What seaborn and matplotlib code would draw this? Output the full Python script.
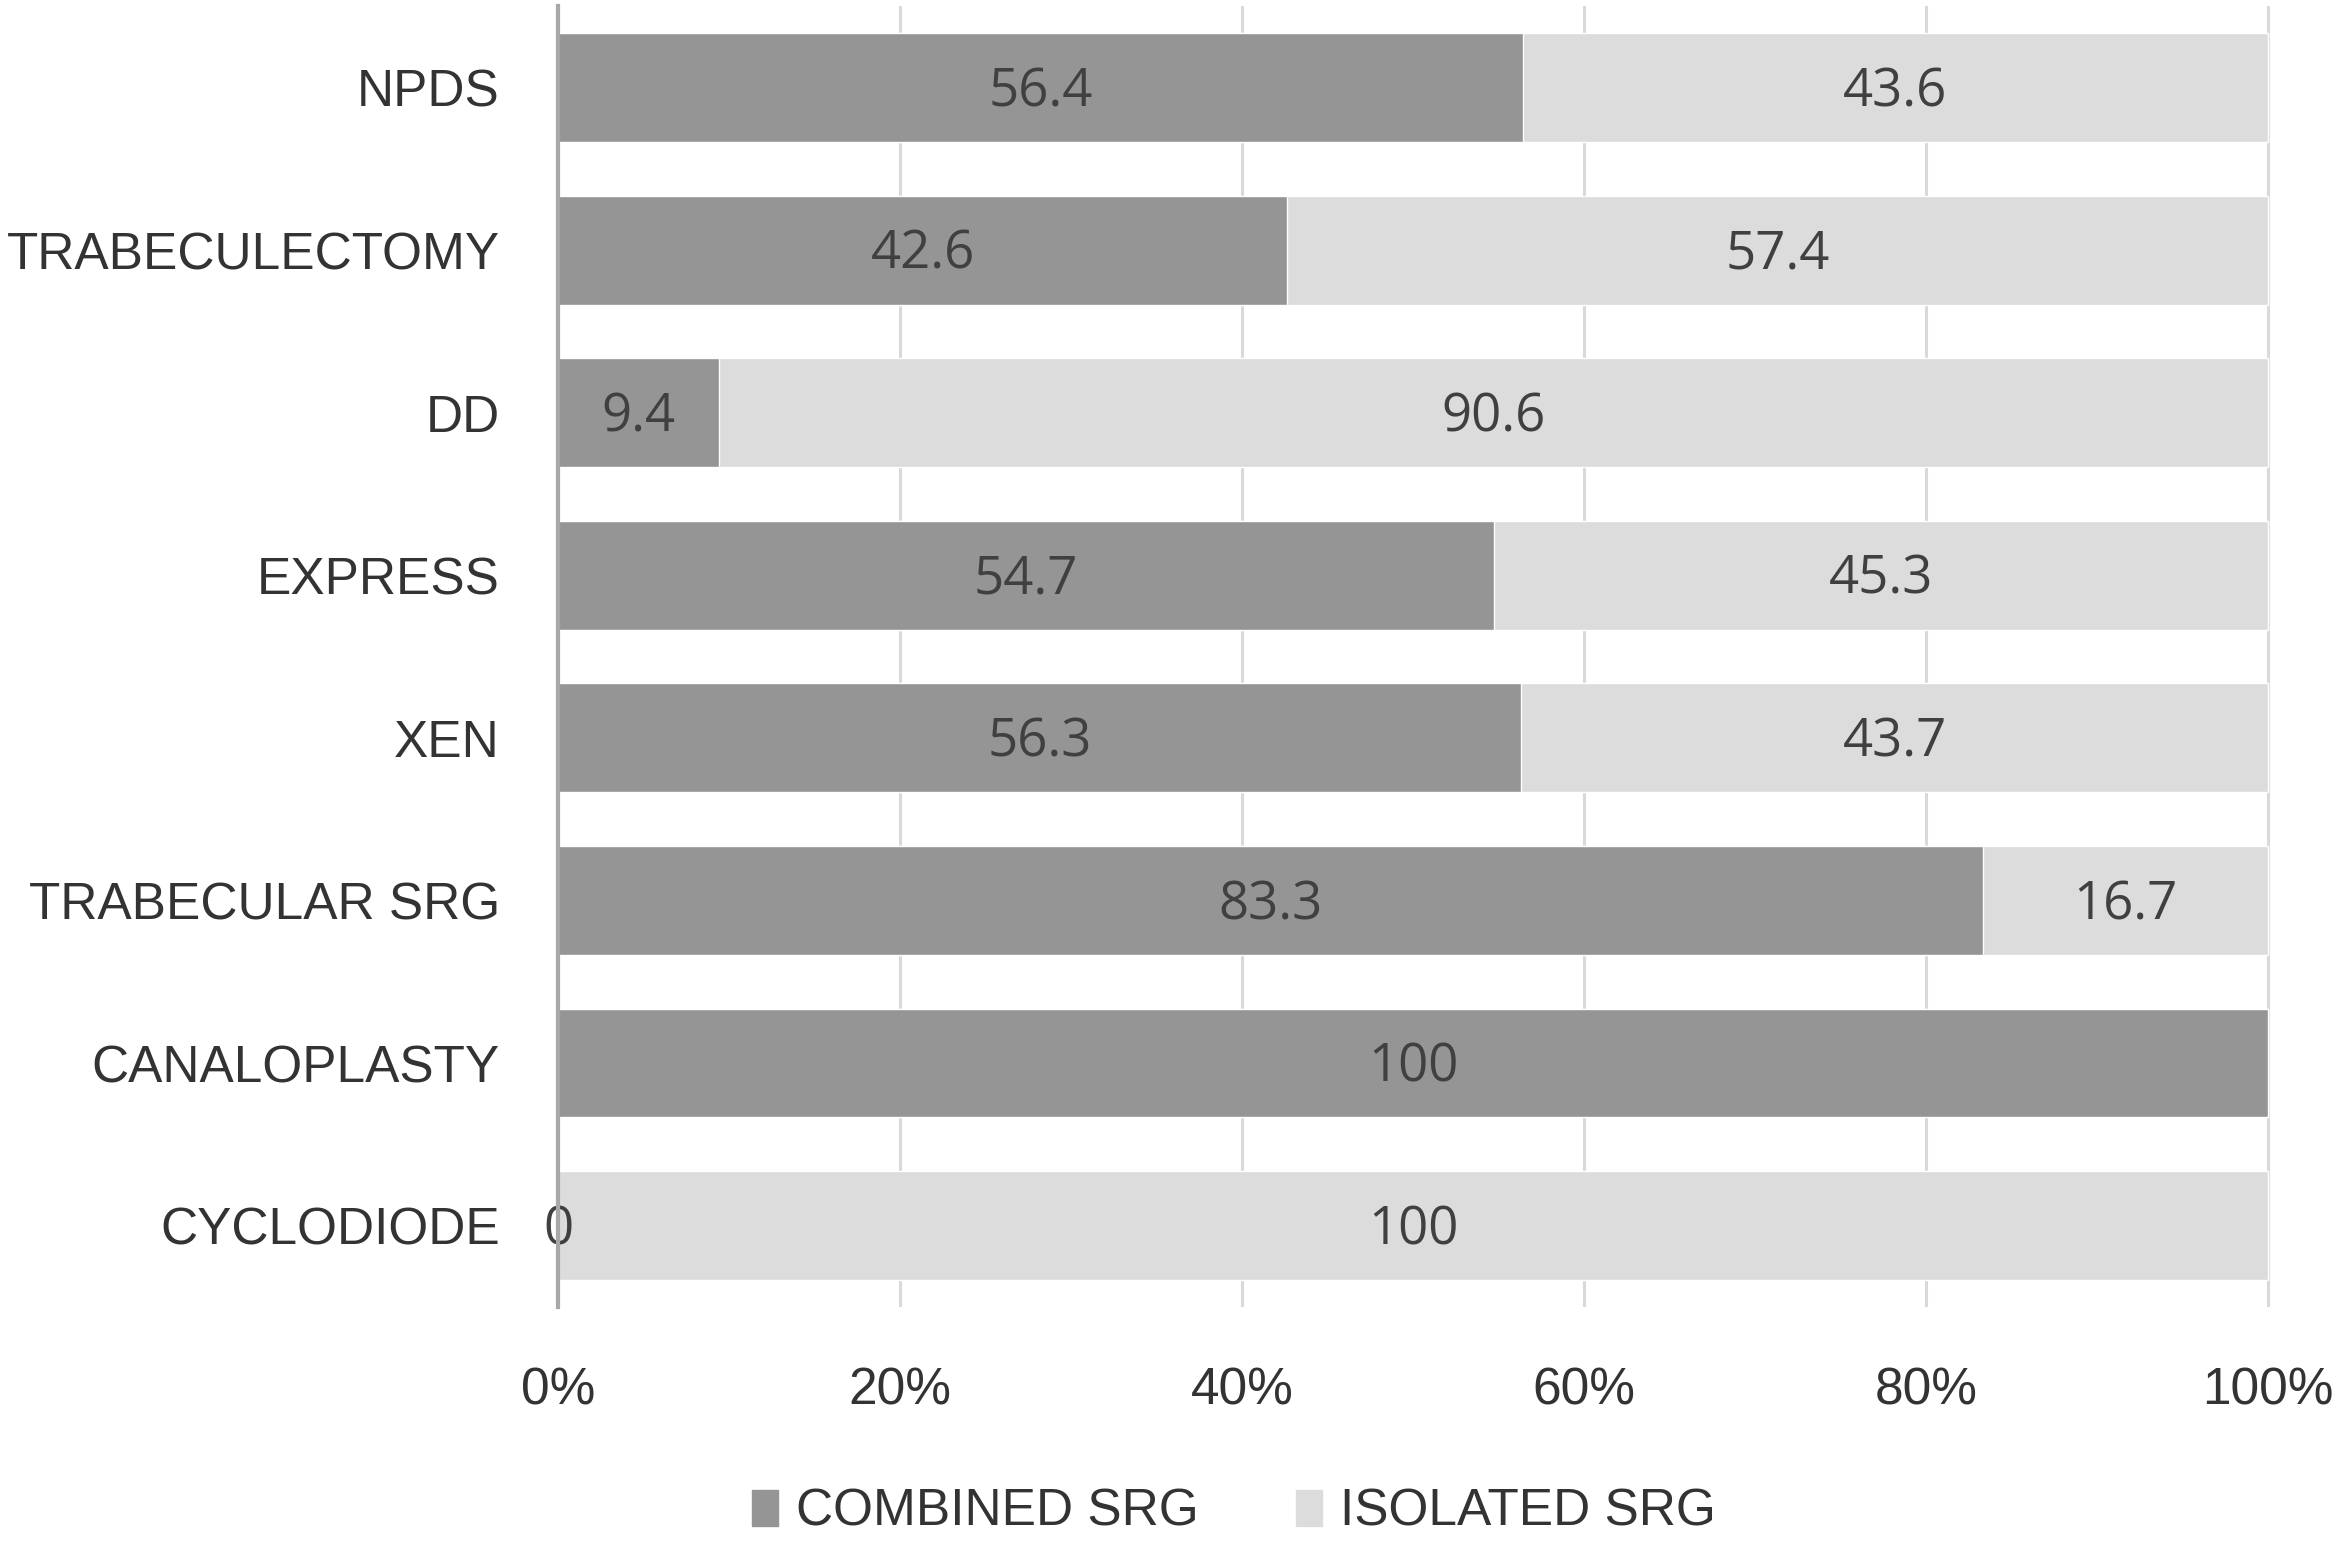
import matplotlib.pyplot as plt
import pandas as pd
import seaborn as sns
from matplotlib.patches import Patch

# data
procedures = ["NPDS", "TRABECULECTOMY", "DD", "EXPRESS", "XEN",
              "TRABECULAR SRG", "CANALOPLASTY", "CYCLODIODE"]
combined = [56.4, 42.6, 9.4, 54.7, 56.3, 83.3, 100, 0]
isolated = [43.6, 57.4, 90.6, 45.3, 43.7, 16.7, 0, 100]
xticks = [0, 20, 40, 60, 80, 100]
series_names = ["COMBINED SRG", "ISOLATED SRG"]

combined_color = "#959595"
isolated_color = "#dcdcdc"
text_color = "#333333"

df = pd.DataFrame({"procedure": procedures, "combined": combined, "isolated": isolated})
df["total"] = df["combined"] + df["isolated"]

sns.set_theme(style="white")
plt.rcParams["font.family"] = ["Liberation Sans", "DejaVu Sans"]

fig = plt.figure(figsize=(23.41, 15.43), dpi=100)
ax = fig.add_axes([0.2385, 0.153, 0.7315, 0.843])

# stacked bars: full length in the light colour, combined share on top
sns.barplot(data=df, y="procedure", x="total", color=isolated_color,
            width=0.67, saturation=1, ax=ax, zorder=2)
sns.barplot(data=df, y="procedure", x="combined", color=combined_color,
            width=0.67, saturation=1, ax=ax, zorder=3)

# value labels centred in each segment
label_kw = dict(ha="center", va="center", fontsize=38, color="#404040",
                family=["Open Sans", "DejaVu Sans"], textcoords="offset points",
                xytext=(0, -3.5), zorder=4)
for i, (c, s) in enumerate(zip(df["combined"], df["isolated"])):
    ax.annotate(f"{c:g}", (c / 2, i), **label_kw)
    if s > 0:
        ax.annotate(f"{s:g}", (c + s / 2, i), **label_kw)

ax.set_xlim(0, 100.15)
ax.set_ylim(len(procedures) - 0.5, -0.5)
ax.set_xticks(xticks, labels=[f"{t}%" for t in xticks])
ax.set_xlabel("")
ax.set_ylabel("")

ax.grid(axis="x", color="#d9d9d9", linewidth=2.2, zorder=0)
ax.grid(axis="y", visible=False)
ax.set_axisbelow(True)
for side in ["top", "right", "bottom"]:
    ax.spines[side].set_visible(False)
ax.spines["left"].set_color("#a8a8a8")
ax.spines["left"].set_linewidth(3)
ax.spines["left"].set_zorder(5)

ax.tick_params(axis="both", length=0, labelsize=37, labelcolor=text_color)
ax.tick_params(axis="x", pad=43)
ax.tick_params(axis="y", pad=42)
for lab in ax.get_yticklabels():
    lab.set_y(lab.get_position()[1])

handles = [Patch(color=combined_color), Patch(color=isolated_color)]
fig.legend(handles, series_names, loc="center", bbox_to_anchor=(0.527, 0.02),
           ncol=2, frameon=False, fontsize=37, labelcolor=text_color,
           handlelength=0.5, handleheight=0.7, handletextpad=0.35, columnspacing=1.9)

fig.savefig("out.png", dpi=100)
